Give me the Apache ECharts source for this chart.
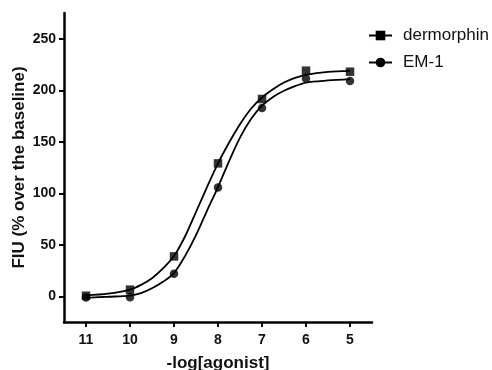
<!DOCTYPE html>
<html><head><meta charset="utf-8">
<script src="https://cdn.jsdelivr.net/npm/echarts@6/dist/echarts.min.js"></script>
<style>html,body{margin:0;padding:0;background:#fff}#c{width:492px;height:370px}</style>
</head><body><div id="c"></div>
<script>
// measured points (-log[agonist], % over baseline)
const doses = [11, 10, 9, 8, 7, 6, 5];
const dermorphin = [0.5, 6.4, 38.7, 129, 191.5, 219, 218];
const em1 = [-1.3, -1, 21.9, 105.7, 182.8, 211.4, 209];
// fitted curves
const curveX = [11, 10.5, 10, 9.75, 9.5, 9.25, 9, 8.75, 8.5, 8.25, 8, 7.75, 7.5, 7.25, 7, 6.75, 6.5, 6.25, 6, 5.5, 5];
const dermorphinCurve = [0.8, 2.5, 6.5, 11, 17.5, 27, 39, 58, 81.8, 106, 129, 149, 167, 182, 193, 201, 207.5, 212, 215, 217.8, 218.8];
const em1Curve = [-1.5, -0.5, 0.6, 3, 7.7, 14, 22.5, 39, 59.3, 83, 106, 131, 154, 172, 185, 193.5, 199.5, 204, 207.5, 209.5, 210.8];
const xTicks = [11, 10, 9, 8, 7, 6, 5];
const yTicks = [0, 50, 100, 150, 200, 250];

const pair = (xs, ys) => xs.map((x, i) => [x, ys[i]]);
const FONT = '"Liberation Sans", Arial, sans-serif';
const chart = echarts.init(document.getElementById('c'), null, {renderer: 'canvas'});
chart.setOption({
  animation: false,
  grid: {left: 64, right: 120, top: 13, bottom: 48, containLabel: false, outerBoundsMode: 'none'},
  legend: {
    orient: 'vertical', left: 368, top: 27, itemGap: 10, padding: 0,
    itemWidth: 23, itemHeight: 12,
    data: ['dermorphin', 'EM-1'],
    textStyle: {fontFamily: FONT, fontSize: 17, color: '#111', padding: [0, 0, 0, 6]}
  },
  xAxis: {
    type: 'value', min: 4.5, max: 11.5, inverse: true,
    name: '-log[agonist]', nameLocation: 'middle', nameGap: 33, nameMoveOverlap: false,
    nameTextStyle: {fontFamily: FONT, fontSize: 17, fontWeight: 'bold', color: '#111'},
    axisLine: {onZero: false, lineStyle: {color: '#000', width: 2.5}},
    axisTick: {show: true, length: 5, lineStyle: {color: '#000', width: 2}, customValues: xTicks},
    axisLabel: {fontFamily: FONT, fontSize: 14, fontWeight: 'bold', color: '#111', margin: 11, customValues: xTicks},
    splitLine: {show: false}
  },
  yAxis: {
    type: 'value', min: -25, max: 275,
    name: 'FIU (% over the baseline)', nameLocation: 'middle', nameGap: 36, nameMoveOverlap: false,
    nameTextStyle: {fontFamily: FONT, fontSize: 17, fontWeight: 'bold', color: '#111'},
    axisLine: {show: true, onZero: false, lineStyle: {color: '#000', width: 2.5}},
    axisTick: {show: true, length: 5, lineStyle: {color: '#000', width: 2}, customValues: yTicks},
    axisLabel: {fontFamily: FONT, fontSize: 14, fontWeight: 'bold', color: '#111', margin: 8, customValues: yTicks},
    splitLine: {show: false}
  },
  series: [
    {name: 'dermorphin', type: 'line', smooth: 0.3, data: pair(curveX, dermorphinCurve),
     showSymbol: false, symbol: 'rect', symbolSize: 9,
     lineStyle: {color: '#000', width: 1.8}, itemStyle: {color: '#000'}, z: 2},
    {name: 'EM-1', type: 'line', smooth: 0.3, data: pair(curveX, em1Curve),
     showSymbol: false, symbol: 'circle', symbolSize: 9,
     lineStyle: {color: '#000', width: 1.8}, itemStyle: {color: '#000'}, z: 2},
    {name: 'dermorphin', type: 'scatter', symbol: 'rect', symbolSize: 8.5,
     data: pair(doses, dermorphin), itemStyle: {color: '#000'}, z: 3},
    {name: 'EM-1', type: 'scatter', symbol: 'circle', symbolSize: 8.5,
     data: pair(doses, em1), itemStyle: {color: '#000'}, z: 3}
  ]
});
</script></body></html>
